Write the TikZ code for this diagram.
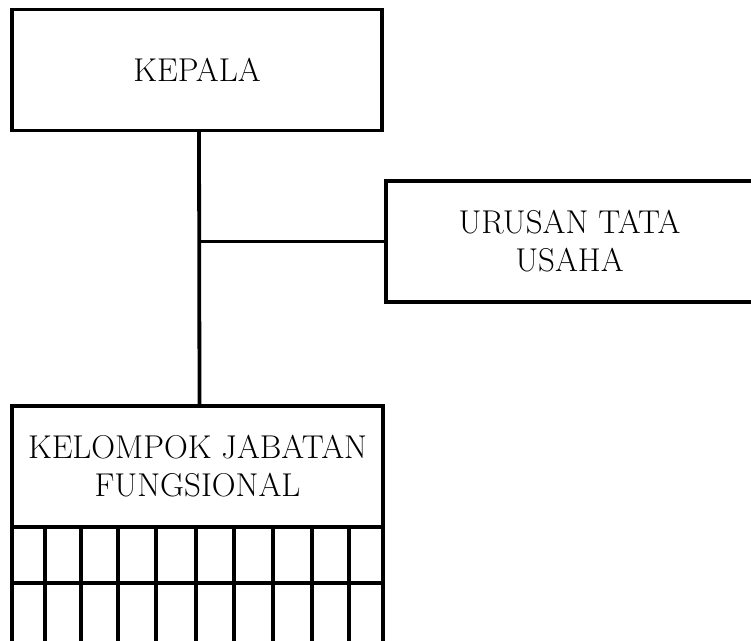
\documentclass[tikz,border=0pt]{standalone}
\usetikzlibrary{positioning}
\tikzset{
  unit/.style={draw, line width=3.8pt, outer sep=0pt, align=center,
    font=\fontsize{33}{38}\selectfont, minimum height=121pt},
  wire/.style={line width=3.8pt}
}
\begin{document}
\begin{tikzpicture}[x=1pt,y=1pt]
    \useasboundingbox (0,0) rectangle (751,640);
    %% head and staff
    \node[unit, minimum width=370pt] (kepala) at (197,570) {KEPALA};
    \node[unit, minimum width=367pt] (urusan) at (569.5,398.5) {URUSAN TATA\\USAHA};
    \node[unit, minimum width=371pt] (kelompok) at (197.5,173.5) {KELOMPOK JABATAN\\FUNGSIONAL};
    %% lines
    \draw[wire] ([xshift=2pt]kepala.south) -- ([xshift=2pt]kelompok.north);
    \draw[wire] ([xshift=2pt]kepala.south |- urusan.west) -- (urusan.west);
    %% grid under the functional group (ten columns, two rows, trial and error)
    \draw[wire] (kelompok.south west) rectangle ++(371,-117);
    \draw[wire] ([yshift=-56pt]kelompok.south west) -- ([yshift=-56pt]kelompok.south east);
    \foreach \x in {33,69,106,144,184,222,261,300,337}
      \draw[wire] ([xshift=\x pt]kelompok.south west) -- ++(0,-117);
\end{tikzpicture}
\end{document}
